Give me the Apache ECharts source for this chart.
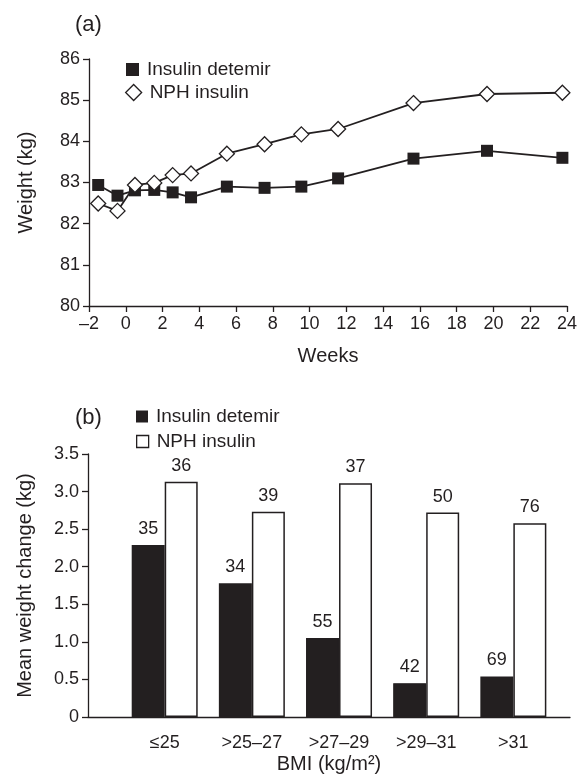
<!DOCTYPE html>
<html><head><meta charset="utf-8">
<script src="https://cdn.jsdelivr.net/npm/echarts@6/dist/echarts.min.js"></script>
<style>html,body{margin:0;padding:0;background:#fff}#c{width:580px;height:775px}</style>
</head><body><div id="c"></div>
<script>
// Panel (a): weight over time
const weeks = [-1.5, -0.45, 0.5, 1.55, 2.55, 3.55, 5.5, 7.55, 9.55, 11.55, 15.65, 19.65, 23.75];
const detemirWeight = [82.94, 82.68, 82.81, 82.82, 82.76, 82.64, 82.9, 82.87, 82.9, 83.1, 83.58, 83.77, 83.6];
const nphWeight = [82.49, 82.31, 82.94, 82.99, 83.18, 83.22, 83.7, 83.93, 84.17, 84.3, 84.93, 85.15, 85.18];
// Panel (b): weight change by BMI
const bmiCategories = ['≤25', '>25–27', '>27–29', '>29–31', '>31'];
const detemirChange = [2.29, 1.78, 1.05, 0.45, 0.54];
const nphChange = [3.13, 2.73, 3.11, 2.72, 2.58];
const detemirN = [35, 34, 55, 42, 69];
const nphN = [36, 39, 37, 50, 76];

const INK = '#231f20';
const FONT = '"Liberation Sans", Arial, sans-serif';
const chart = echarts.init(document.getElementById('c'), null, {renderer: 'canvas'});

const pairs = (xs, ys) => xs.map((x, i) => [x, ys[i]]);
const catPos = bmiCategories.map((c, i) => i + 1);

const axisCommon = {
  axisLine: {onZero: false, lineStyle: {color: INK, width: 1.3}},
  axisTick: {lineStyle: {color: INK, width: 1.3}, length: 6},
  axisLabel: {color: INK, fontFamily: FONT, fontSize: 18},
  splitLine: {show: false},
  nameTextStyle: {color: INK, fontFamily: FONT, fontSize: 20}
};

const legendText = {color: INK, fontFamily: FONT, fontSize: 19, padding: [0, 0, 0, 3]};

chart.setOption({
  animation: false,
  backgroundColor: '#fff',
  title: [
    {text: '(a)', left: 70, top: 9, textStyle: {color: INK, fontFamily: FONT, fontSize: 22, fontWeight: 'normal'}},
    {text: '(b)', left: 70, top: 402, textStyle: {color: INK, fontFamily: FONT, fontSize: 22, fontWeight: 'normal'}}
  ],
  legend: [
    {left: 121, top: 55, itemWidth: 13, itemHeight: 13, textStyle: legendText, selectedMode: false,
     data: [{name: 'Insulin detemir', icon: 'rect', itemStyle: {color: INK, borderWidth: 0}}]},
    {left: 120, top: 78, itemWidth: 16, itemHeight: 16, textStyle: legendText, selectedMode: false,
     data: [{name: 'NPH insulin', icon: 'diamond', itemStyle: {color: '#fff', borderColor: INK, borderWidth: 1.3}}]},
    {left: 131, top: 402, itemWidth: 12, itemHeight: 12, textStyle: legendText, selectedMode: false,
     data: [{name: 'Insulin detemir ', icon: 'rect', itemStyle: {color: INK, borderWidth: 0}}]},
    {left: 131, top: 427, itemWidth: 12, itemHeight: 12, textStyle: legendText, selectedMode: false,
     data: [{name: 'NPH insulin ', icon: 'rect', itemStyle: {color: '#fff', borderColor: INK, borderWidth: 1.3}}]}
  ],
  grid: [
    {left: 89, width: 479, top: 59, height: 247},
    {left: 88, width: 482, top: 454, height: 266}
  ],
  xAxis: [
    Object.assign({}, axisCommon, {
      gridIndex: 0, type: 'value', min: -2, max: 24, interval: 2,
      name: 'Weeks', nameLocation: 'middle', nameGap: 40,
      axisLabel: Object.assign({}, axisCommon.axisLabel, {margin: 9, formatter: v => String(v).replace('-', '–')})
    }),
    Object.assign({}, axisCommon, {
      gridIndex: 1, type: 'value', min: 0.12, max: 5.65,
      name: 'BMI (kg/m²)', nameLocation: 'middle', nameGap: 37,
      axisTick: {show: false},
      axisLabel: Object.assign({}, axisCommon.axisLabel, {margin: 17, customValues: catPos,
        formatter: v => bmiCategories[Math.round(v) - 1] || ''})
    })
  ],
  yAxis: [
    Object.assign({}, axisCommon, {
      gridIndex: 0, type: 'value', min: 80, max: 86, interval: 1,
      name: 'Weight (kg)', nameLocation: 'middle', nameGap: 53,
      axisLabel: Object.assign({}, axisCommon.axisLabel, {margin: 9})
    }),
    Object.assign({}, axisCommon, {
      gridIndex: 1, type: 'value', min: 0, max: 3.5, interval: 0.5,
      name: 'Mean weight change (kg)', nameLocation: 'middle', nameGap: 53,
      axisLabel: Object.assign({}, axisCommon.axisLabel, {margin: 9, formatter: v => v === 0 ? '0' : v.toFixed(1)})
    })
  ],
  series: [
    {name: 'Insulin detemir', type: 'line', xAxisIndex: 0, yAxisIndex: 0,
     data: pairs(weeks, detemirWeight), symbol: 'rect', symbolSize: 12,
     lineStyle: {color: INK, width: 1.8}, itemStyle: {color: INK, borderWidth: 0}, z: 3},
    {name: 'NPH insulin', type: 'line', xAxisIndex: 0, yAxisIndex: 0,
     data: pairs(weeks, nphWeight), symbol: 'diamond', symbolSize: 15,
     lineStyle: {color: INK, width: 1.8}, itemStyle: {color: '#fff', borderColor: INK, borderWidth: 1.3}, z: 4},
    {name: 'Insulin detemir ', type: 'bar', xAxisIndex: 1, yAxisIndex: 1,
     data: pairs(catPos, detemirChange), barWidth: 33, barGap: '0%',
     itemStyle: {color: INK, borderColor: INK, borderWidth: 1.3},
     label: {show: true, position: 'top', distance: 7, color: INK, fontFamily: FONT, fontSize: 18,
       formatter: p => String(detemirN[p.dataIndex])}},
    {name: 'NPH insulin ', type: 'bar', xAxisIndex: 1, yAxisIndex: 1,
     data: pairs(catPos, nphChange), barWidth: 33, barGap: '0%',
     itemStyle: {color: '#fff', borderColor: INK, borderWidth: 1.5},
     label: {show: true, position: 'top', distance: 7, color: INK, fontFamily: FONT, fontSize: 18,
       formatter: p => String(nphN[p.dataIndex])}}
  ]
});
</script>
</body></html>
